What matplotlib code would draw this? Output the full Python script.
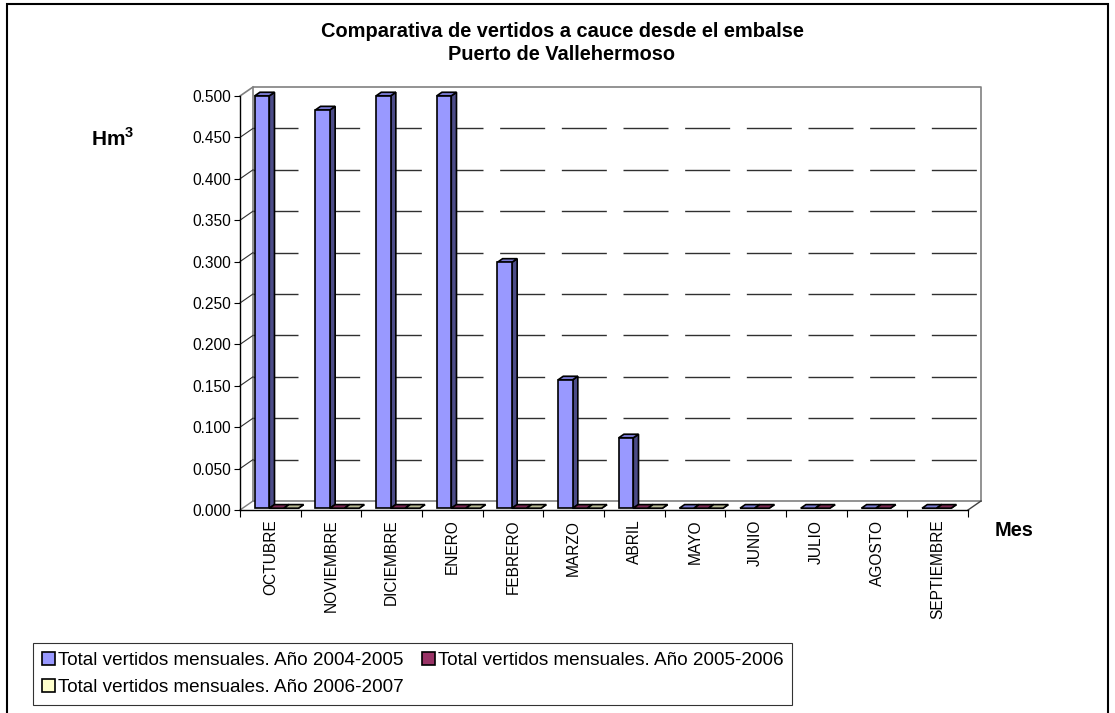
import numpy as np
import matplotlib
matplotlib.use("Agg")
import matplotlib.pyplot as plt
from matplotlib.patches import Polygon, Rectangle, Patch

plt.rcParams['font.family'] = ['Liberation Sans', 'DejaVu Sans']
plt.rcParams['mathtext.fontset'] = 'custom'
plt.rcParams['mathtext.rm'] = 'Liberation Sans'
plt.rcParams['mathtext.bf'] = 'Liberation Sans:bold'
plt.rcParams['lines.scale_dashes'] = False

# ---- data ----
months = ["OCTUBRE", "NOVIEMBRE", "DICIEMBRE", "ENERO", "FEBRERO", "MARZO",
          "ABRIL", "MAYO", "JUNIO", "JULIO", "AGOSTO", "SEPTIEMBRE"]
vert_2004_2005 = [0.498, 0.481, 0.498, 0.498, 0.297, 0.155, 0.085,
                  0.0, 0.0, 0.0, 0.0, 0.0]
vert_2005_2006 = [0.0, 0.0, 0.0, 0.0, 0.0, 0.0, 0.0, 0.0, 0.0, 0.0, 0.0, 0.0]
vert_2006_2007 = [0.0, 0.0, 0.0, 0.0, 0.0, 0.0, 0.0, 0.0,
                  np.nan, np.nan, np.nan, np.nan]
series_labels = ["Total vertidos mensuales. Año 2004-2005",
                 "Total vertidos mensuales. Año 2005-2006",
                 "Total vertidos mensuales. Año 2006-2007"]
y_ticks = np.arange(0, 0.5001, 0.05)

# face colours: front, top, side
palette = [("#9999FF", "#7878D0", "#4C4C88"),
           ("#993366", "#7A2952", "#4C1A33"),
           ("#FFFFCC", "#B8B894", "#808066")]

W, H = 1115, 713
fig = plt.figure(figsize=(W / 100, H / 100), dpi=100)
fig.patch.set_facecolor("white")

ax_l, ax_r, ax_t, ax_b = 240, 968, 96, 510
ax = fig.add_axes([ax_l / W, 1 - ax_b / H, (ax_r - ax_l) / W, (ax_b - ax_t) / H])
n = len(months)
ax.set_xlim(0, n)
ax.set_ylim(0, 0.5)
ax.patch.set_visible(False)

# pixel -> data scale
px_x = n / (ax_r - ax_l)
px_y = 0.5 / (ax_b - ax_t)
# depth of the 3D box
DX, DY = 13 * px_x, 9 * px_y

wall = "#808080"
kw = dict(clip_on=False)
# back wall, side wall and floor outlines
ax.plot([DX, DX, n + DX, n + DX], [DY, 0.5 + DY, 0.5 + DY, DY], color=wall, lw=1.2, zorder=1, **kw)
ax.plot([0, DX], [0.5, 0.5 + DY], color=wall, lw=1.2, zorder=1, **kw)
ax.plot([DX, n + DX], [DY, DY], color=wall, lw=1.2, zorder=1, **kw)
ax.plot([n, n + DX], [0, DY], color="#404040", lw=1.0, zorder=1, **kw)
# gridlines on back wall and side wall
for v in y_ticks[1:-1]:
    ax.plot([DX, n + DX], [v + DY, v + DY], color="#303030", lw=1.0,
            linestyle=(0, (32.4, 12.0)), zorder=1, **kw)
    ax.plot([0, DX], [v, v + DY], color="#303030", lw=0.8, zorder=1, **kw)
ax.plot([0, DX], [0, DY], color=wall, lw=1.0, zorder=1, **kw)

# 3D columns
bar_w = 0.24
offsets = [0.20, 0.44, 0.68]
f0, f1 = 0.2, 0.6
series = [vert_2004_2005, vert_2005_2006, vert_2006_2007]
for i in range(n):
    for s, vals in enumerate(series):
        v = vals[i]
        if np.isnan(v):
            continue
        front, top, side = palette[s]
        x0 = i + offsets[s] + f0 * DX
        y0 = f0 * DY
        x1 = x0 + bar_w
        ddx, ddy = (f1 - f0) * DX, (f1 - f0) * DY
        ec = dict(edgecolor="black", linewidth=1.2, joinstyle="miter", clip_on=False)
        ax.add_patch(Polygon([(x1, y0), (x1 + ddx, y0 + ddy), (x1 + ddx, y0 + v + ddy), (x1, y0 + v)],
                             closed=True, facecolor=side, zorder=3, **ec))
        ax.add_patch(Polygon([(x0, y0 + v), (x1, y0 + v), (x1 + ddx, y0 + v + ddy), (x0 + ddx, y0 + v + ddy)],
                             closed=True, facecolor=top, zorder=3, **ec))
        if v > 0:
            ax.add_patch(Rectangle((x0, y0), bar_w, v, facecolor=front, zorder=3, **ec))

# axes, ticks and labels
for sp in ["top", "right"]:
    ax.spines[sp].set_visible(False)
ax.spines["left"].set_color("black")
ax.spines["bottom"].set_color("black")
ax.spines["left"].set_linewidth(1.0)
ax.spines["bottom"].set_linewidth(1.0)
ax.set_yticks(y_ticks)
ax.set_yticklabels([f"{t:.3f}" for t in y_ticks], fontsize=11.2)
ax.tick_params(axis="y", direction="out", length=4.5, width=0.8, pad=2)
ax.set_xticks(np.arange(n + 1))
ax.set_xticklabels([])
ax.tick_params(axis="x", which="major", direction="out", length=5, width=0.8)
ax.set_xticks(np.arange(n) + 0.5, minor=True)
ax.set_xticklabels(months, minor=True, rotation=90, fontsize=11.2)
ax.tick_params(axis="x", which="minor", length=0, pad=7)

fig.text(562 / W, 1 - 43 / H, "Comparativa de vertidos a cauce desde el embalse\nPuerto de Vallehermoso",
         ha="center", va="center", fontsize=14.4, fontweight="bold", linespacing=1.3)
fig.text(91 / W, 1 - 139 / H, r"$\mathbf{Hm}^{\mathbf{3}}$", ha="left", va="center", fontsize=15)
fig.text(995 / W, 1 - 530 / H, "Mes", ha="left", va="center", fontsize=14.4, fontweight="bold")

handles = [Patch(facecolor=palette[k][0], edgecolor="black", linewidth=1.2, label=series_labels[k])
           for k in range(3)]
order = [0, 2, 1]
leg = fig.legend(handles=[handles[k] for k in order], ncol=2, loc="upper left",
                 bbox_to_anchor=(33 / W, 1 - 643 / H), fontsize=13.6, frameon=True,
                 fancybox=False, edgecolor="black", handlelength=0.69, handleheight=0.69,
                 handletextpad=0.16, columnspacing=1.0, borderpad=0.45, labelspacing=0.55,
                 borderaxespad=0)
leg.get_frame().set_linewidth(0.8)

# outer chart frame
fig.add_artist(Rectangle((7 / W, -0.05), (1108 - 7) / W, 1 - 4 / H + 0.05, transform=fig.transFigure,
                         fill=False, edgecolor="black", linewidth=1.5))

fig.savefig("out.png", dpi=100)
